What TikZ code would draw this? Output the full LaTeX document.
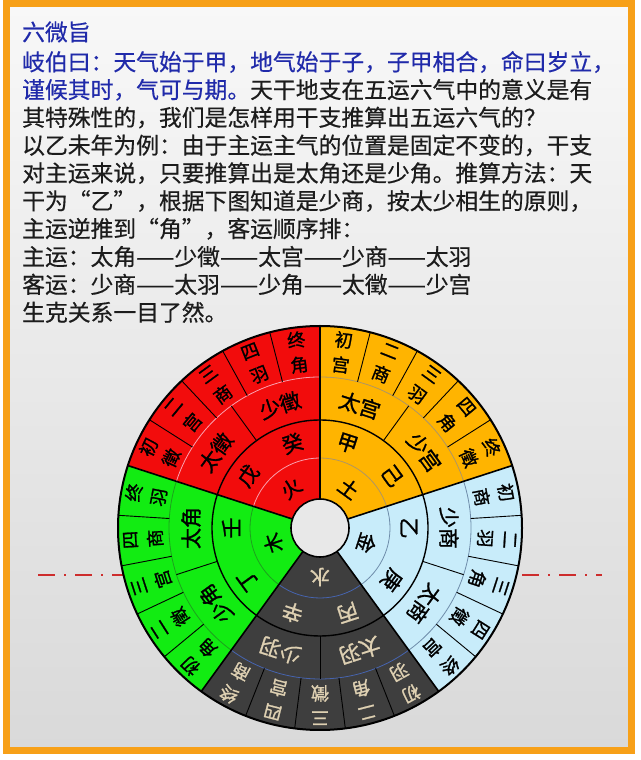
\documentclass[tikz,border=0pt]{standalone}
\usepackage{fontspec}
\newfontfamily\cjk{Noto Sans CJK SC}[FakeBold=0.5]
\newfontfamily\cjkb{Noto Sans CJK SC}[FakeBold=1.2]
\usepackage{tikz}
\usetikzlibrary{positioning}
\usepackage{xcolor}
\definecolor{frameOrange}{RGB}{247,160,24}
\definecolor{bgTop}{RGB}{248,248,248}
\definecolor{bgBot}{RGB}{217,217,217}
\definecolor{titleBlue}{RGB}{32,42,170}
\definecolor{bodyInk}{RGB}{28,28,28}
\definecolor{dashRed}{RGB}{205,45,45}
\definecolor{fireRed}{RGB}{242,12,12}
\definecolor{earthGold}{RGB}{255,180,0}
\definecolor{metalBlue}{RGB}{200,236,250}
\definecolor{waterGray}{RGB}{62,62,62}
\definecolor{woodGreen}{RGB}{18,236,18}
\definecolor{tanText}{RGB}{222,208,178}
\definecolor{holeGray}{RGB}{232,232,232}
\definecolor{fireLine}{RGB}{250,160,175}
\definecolor{earthLine}{RGB}{175,150,100}
\definecolor{metalLine}{RGB}{110,140,170}
\definecolor{waterLine}{RGB}{70,100,175}
\definecolor{woodLine}{RGB}{30,160,30}

% 初 二 三 四 终 of the outer ring
\newcommand\ordch[1]{\ifcase#1\relax\or 初\or 二\or 三\or 四\or 终\fi}

\tikzset{
  sectorline/.style={black, line width=1.6pt},
  cellline/.style={black, line width=0.9pt},
  outerlab/.style={font=\cjkb\fontsize{18}{25}\selectfont, align=center, inner sep=0pt},
  midlab/.style={font=\cjkb\fontsize{21}{21}\selectfont, inner sep=0pt},
  stemlab/.style={font=\cjkb\fontsize{21}{21}\selectfont, inner sep=0pt},
  elemlab/.style={font=\cjkb\fontsize{20}{20}\selectfont, inner sep=0pt},
  bodytext/.style={font=\cjk\fontsize{22.8}{27}\selectfont, text=bodyInk,
                   anchor=west, inner sep=0pt},
}

\begin{document}
\begin{tikzpicture}[x=1pt, y=1pt]
  \useasboundingbox (0,0) rectangle (640,760);
  % frame and background
  \fill[white] (0,0) rectangle (640,760);
  \shade[top color=bgTop, bottom color=bgBot] (6.5,9) rectangle (631,756.5);
  \draw[frameOrange, line width=7pt] (6.5,9) rectangle (631,756.5);

  % text block
  \node[bodytext, text=titleBlue] (title) at (22,728) {六微旨};
  \foreach \t [count=\k] in {
      {{\color{titleBlue}岐伯曰：天气始于甲，地气始于子，子甲相合，命曰岁立，}},
      {{\color{titleBlue}谨候其时，气可与期。}天干地支在五运六气中的意义是有},
      {其特殊性的，我们是怎样用干支推算出五运六气的？},
      {以乙未年为例：由于主运主气的位置是固定不变的，干支},
      {对主运来说，只要推算出是太角还是少角。推算方法：天},
      {干为“乙”，根据下图知道是少商，按太少相生的原则，},
      {主运逆推到“角”，客运顺序排：},
      {主运：太角——少徵——太宫——少商——太羽},
      {客运：少商——太羽——少角——太徵——少宫},
      {生克关系一目了然。}} {
    \node[bodytext] (line-\k) at (22,{698-27.8*(\k-1)}) {\t};
  }

  % dash-dot marks either side of the wheel
  \draw[dashRed, line width=2.5pt, dash pattern=on 17pt off 9pt on 2pt off 9pt]
    (38,185) -- (124,185);
  \draw[dashRed, line width=2.5pt, dash pattern=on 17pt off 9pt on 2pt off 9pt]
    (522,185) -- (602,185);

  % wheel: five sectors, rings element / stems / tai-shao / five steps
  \begin{scope}[shift={(320,232)}]
    \foreach \s/\sc/\tc/\lc/\el/\stA/\stB/\thA/\thB/\notes [count=\i] in {
        162/fireRed/black/fireLine/火/戊/癸/太徵/少徵/{徵,宫,商,羽,角},
        90/earthGold/black/earthLine/土/甲/己/太宫/少宫/{宫,商,羽,角,徵},
        18/metalBlue/black/metalLine/金/乙/庚/少商/太商/{商,羽,角,徵,宫},
        -54/waterGray/tanText/waterLine/水/丙/辛/太羽/少羽/{羽,角,徵,宫,商},
        -126/woodGreen/black/woodLine/木/丁/壬/少角/太角/{角,徵,宫,商,羽}} {
      \fill[\sc] (\s:29) arc[start angle=\s, end angle=\s-72, radius=29]
        -- (\s-72:202) arc[start angle=\s-72, end angle=\s, radius=202] -- cycle;
      \draw[\lc, line width=0.8pt] (\s:70) arc[start angle=\s, end angle=\s-72, radius=70];
      \draw[\lc, line width=0.8pt] (\s:151) arc[start angle=\s, end angle=\s-72, radius=151];
      \draw[black, line width=1.4pt] (\s:108) arc[start angle=\s, end angle=\s-72, radius=108];
      \draw[cellline] (\s-36:108) -- (\s-36:151);
      \foreach \j in {1,...,4}
        \draw[cellline] (\s-14.4*\j:151) -- (\s-14.4*\j:202);
      \node[elemlab, text=\tc, rotate=\s-126] (el-\i) at (\s-36:49) {\el};
      \node[stemlab, text=\tc, rotate=\s-108] (st-\i-a) at (\s-18:89) {\stA};
      \node[stemlab, text=\tc, rotate=\s-144] (st-\i-b) at (\s-54:89) {\stB};
      \node[midlab, text=\tc, rotate=\s-108] (th-\i-a) at (\s-18:129) {\thA};
      \node[midlab, text=\tc, rotate=\s-144] (th-\i-b) at (\s-54:129) {\thB};
      \foreach \n [count=\k] in \notes {
        \pgfmathsetmacro\ang{\s-7.2-14.4*(\k-1)}
        \node[outerlab, text=\tc, rotate=\ang-90] (ou-\i-\k) at (\ang:177)
          {\ordch{\k}\\\n};
      }
    }
    \foreach \a in {90,18,-54,-126,162}
      \draw[sectorline] (\a:29) -- (\a:202);
    \draw[black, line width=2pt] (0,0) circle[radius=202];
    \filldraw[fill=holeGray, draw=black, line width=1.6pt] (0,0) circle[radius=29];
  \end{scope}
\end{tikzpicture}
\end{document}
